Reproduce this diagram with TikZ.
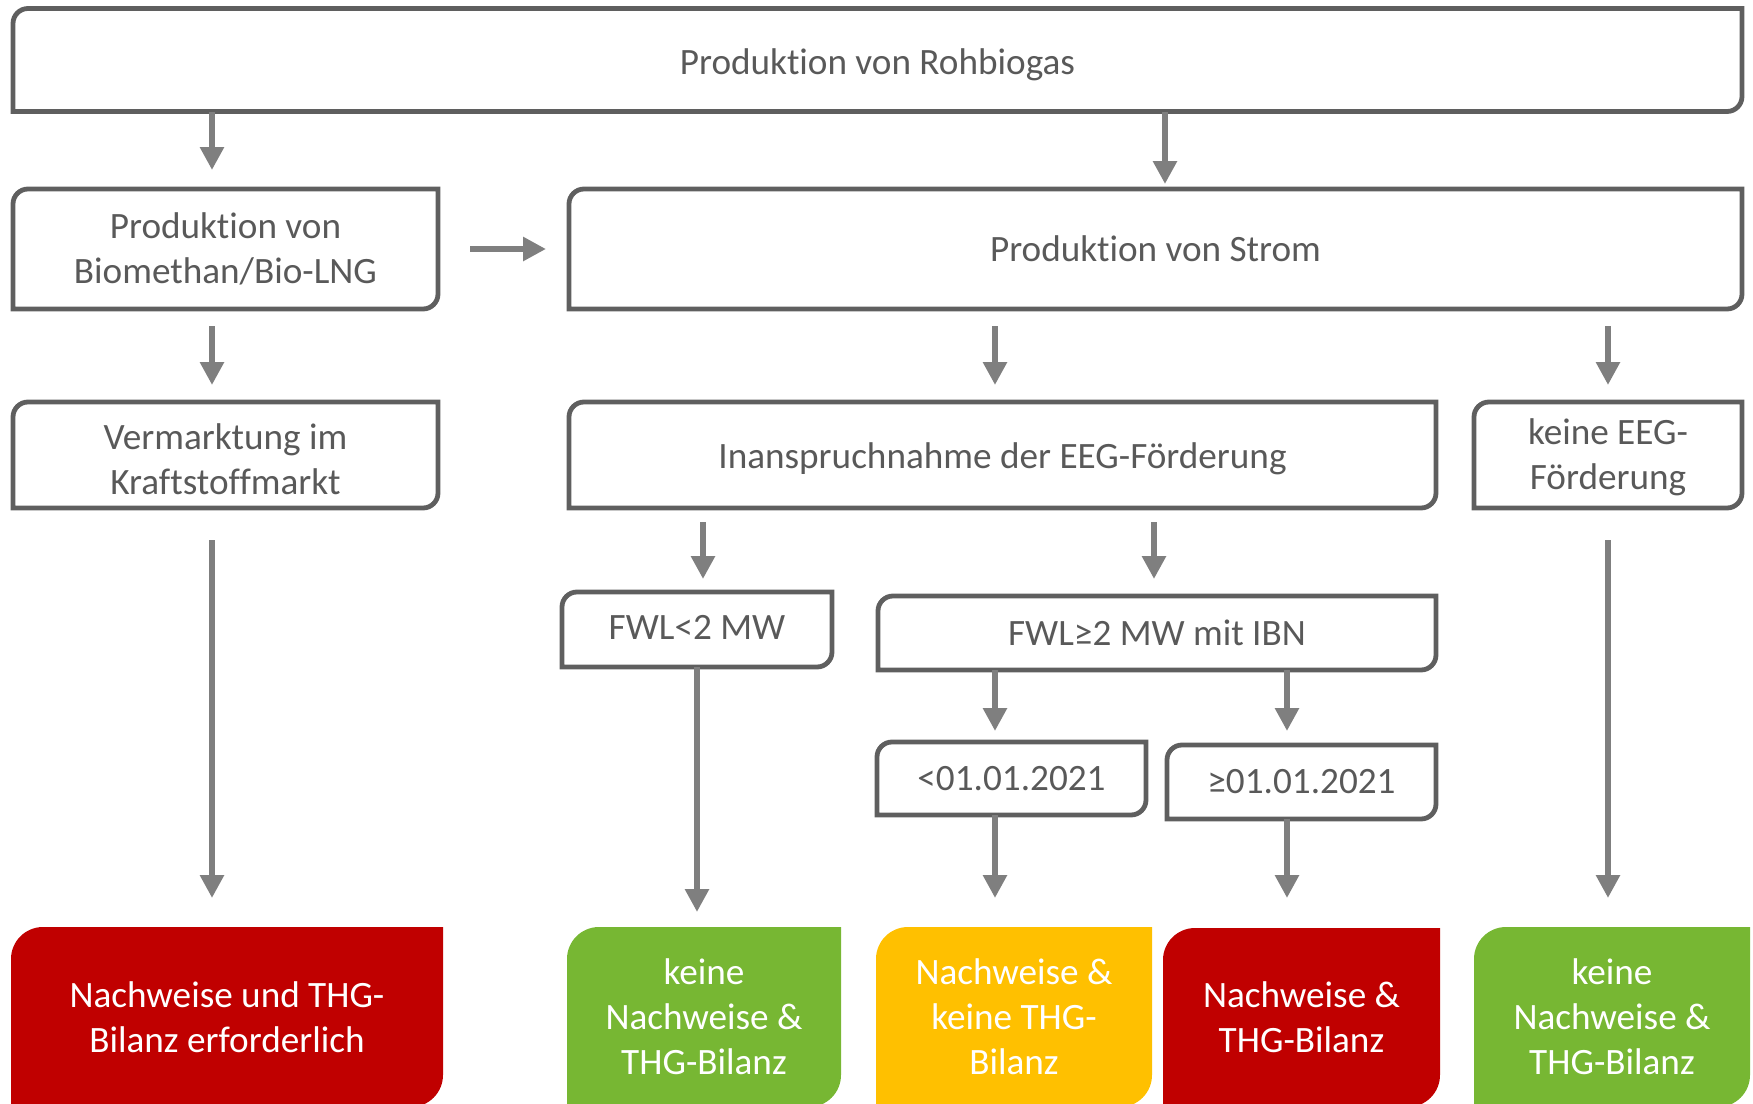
\documentclass[tikz,border=0pt]{standalone}
\usepackage{fontspec}
\setmainfont{Carlito}[Ligatures=NoCommon]
\usetikzlibrary{arrows.meta}
\definecolor{framegray}{HTML}{5F5F5F}
\definecolor{textgray}{HTML}{595959}
\definecolor{arrgray}{HTML}{7F7F7F}
\definecolor{myred}{HTML}{C00000}
\definecolor{mygreen}{HTML}{77B733}
\definecolor{myyellow}{HTML}{FFC000}
\pgfdeclarelayer{background}
\pgfsetlayers{background,main}
\newcommand\wframe[1]{\draw[frame] (#1.south west) -- ([yshift=-7.5pt]#1.north west) arc[start angle=180,end angle=90,radius=7.5pt] -- (#1.north east) -- ([yshift=7.5pt]#1.south east) arc[start angle=0,end angle=-90,radius=7.5pt] -- cycle;}
\newcommand\cframe[2]{\begin{pgfonlayer}{background}\fill[#2] (#1.south west) -- ([yshift=-16pt]#1.north west) arc[start angle=180,end angle=90,radius=16pt] -- (#1.north east) -- ([yshift=16pt]#1.south east) arc[start angle=0,end angle=-90,radius=16pt] -- cycle;\end{pgfonlayer}}
\newcommand\shifttext[2]{\raisebox{#1}[\height][\depth]{\begin{tabular}{@{}c@{}}#2\end{tabular}}}
\begin{document}
\begin{tikzpicture}[x=0.5pt,y=0.5pt,
  frame/.style={draw=framegray,line width=2.4pt},
  basebox/.style={inner sep=0pt,outer sep=0pt,align=center,font=\fontsize{18.6}{22.4}\selectfont},
  wbox/.style={basebox,text=textgray},
  cbox/.style={basebox,text=white,minimum height=90pt},
  arr/.style={draw=arrgray,line width=3pt,-{Triangle[width=11.5pt,length=11.5pt]}}]
\useasboundingbox (0,0) rectangle (1753,-1104);
% white boxes
\node[wbox,minimum width=864.5pt,minimum height=51.5pt] (top) at (877.5,-60) {\shifttext{-3pt}{Produktion von Rohbiogas}};
\node[wbox,minimum width=212.5pt,minimum height=60pt] (bio) at (225.5,-249) {\shifttext{-1.5pt}{Produktion von\\Biomethan/Bio-LNG}};
\node[wbox,minimum width=586.5pt,minimum height=60pt] (strom) at (1155.5,-249) {Produktion von Strom};
\node[wbox,minimum width=212.5pt,minimum height=53pt] (verm) at (225.5,-455) {\shifttext{-4pt}{Vermarktung im\\Kraftstoffmarkt}};
\node[wbox,minimum width=433.5pt,minimum height=53pt] (inan) at (1002.5,-455) {\shifttext{-2.5pt}{Inanspruchnahme der EEG-Förderung}};
\node[wbox,minimum width=134pt,minimum height=53pt] (keine) at (1608,-455) {\shifttext{-1.5pt}{keine EEG-\\Förderung}};
\node[wbox,minimum width=135pt,minimum height=37.5pt] (fwl1) at (697,-629.5) {\shifttext{-0.5pt}{FWL<2 MW}};
\node[wbox,minimum width=279pt,minimum height=37pt] (fwl2) at (1157,-633) {FWL≥2 MW mit IBN};
\node[wbox,minimum width=134.5pt,minimum height=36.5pt] (d1) at (1011.5,-778.5) {<01.01.2021};
\node[wbox,minimum width=134.5pt,minimum height=37pt] (d2) at (1301.5,-782) {≥01.01.2021};
\foreach \n in {top,bio,strom,verm,inan,keine,fwl1,fwl2,d1,d2}{\wframe{\n}}
% coloured boxes
\node[cbox,minimum width=216pt] (red1) at (227,-1017) {Nachweise und THG-\\Bilanz erforderlich};
\node[cbox,minimum width=137pt] (green1) at (704,-1017) {keine\\Nachweise \&\\THG-Bilanz};
\node[cbox,minimum width=138pt] (yellow) at (1014,-1017) {Nachweise \&\\keine THG-\\Bilanz};
\node[cbox,minimum width=138.5pt,minimum height=89.5pt] (red2) at (1301.5,-1017.5) {Nachweise \&\\THG-Bilanz};
\node[cbox,minimum width=138pt] (green2) at (1612,-1017) {keine\\Nachweise \&\\THG-Bilanz};
\cframe{red1}{myred}
\cframe{green1}{mygreen}
\cframe{yellow}{myyellow}
\cframe{red2}{myred}
\cframe{green2}{mygreen}
% helper coordinates
\coordinate (bN) at ([xshift=-6.75pt]bio.north);
\coordinate (sN) at ([xshift=4.75pt]strom.north);
\coordinate (bS) at ([xshift=-6.75pt]bio.south);
\coordinate (vS) at ([xshift=-6.75pt]verm.south);
\coordinate (iN) at ([xshift=-3.75pt]inan.north);
\coordinate (f1N) at ([xshift=3pt]fwl1.north);
\coordinate (f2N) at ([xshift=-1.5pt]fwl2.north);
\coordinate (d1N) at ([xshift=-8.25pt]d1.north);
\coordinate (d2N) at ([xshift=-7.25pt]d2.north);
\coordinate (d1S) at ([xshift=-8.25pt]d1.south);
\coordinate (d2S) at ([xshift=-7.25pt]d2.south);
% arrows
\draw[arr,shorten >=9.5pt] (top.south -| bN) -- (bN);
\draw[arr,shorten >=2.5pt] (top.south -| sN) -- (sN);
\draw[arr,shorten <=16pt,shorten >=11.5pt] (bio.east) -- (strom.west);
\draw[arr,shorten <=8.5pt,shorten >=8.5pt] (bS) -- (verm.north -| bS);
\draw[arr,shorten <=8.5pt,shorten >=8.5pt] (strom.south -| iN) -- (iN);
\draw[arr,shorten <=8.5pt,shorten >=8.5pt] (strom.south -| keine.north) -- (keine.north);
\draw[arr,shorten <=16pt,shorten >=14.5pt] (vS) -- (vS |- red1.north);
\draw[arr,shorten <=16pt,shorten >=14.5pt] (keine.south) -- (keine.south |- green2.north);
\draw[arr,shorten <=7pt,shorten >=6.5pt] (inan.south -| f1N) -- (f1N);
\draw[arr,shorten <=7pt,shorten >=8.5pt] (inan.south -| f2N) -- (f2N);
\draw[arr,shorten >=7.5pt] (fwl1.south) -- (fwl1.south |- green1.north);
\draw[arr,shorten >=5.5pt] (fwl2.south -| d1N) -- (d1N);
\draw[arr,shorten >=7pt] (fwl2.south -| d2N) -- (d2N);
\draw[arr,shorten >=14.5pt] (d1S) -- (d1S |- yellow.north);
\draw[arr,shorten >=15pt] (d2S) -- (d2S |- red2.north);
\end{tikzpicture}
\end{document}
